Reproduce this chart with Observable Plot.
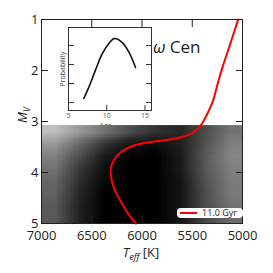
<!DOCTYPE html>
<html>
<head>
<meta charset="utf-8">
<script src="https://cdn.jsdelivr.net/npm/d3@7"></script>
<script src="https://cdn.jsdelivr.net/npm/@observablehq/plot@0.6"></script>
<style>
  html, body { margin: 0; padding: 0; background: white; }
  #wrap { position: relative; width: 273px; height: 273px; overflow: hidden; font-family: "Open Sans", sans-serif; color: #222; }
  .abs { position: absolute; }
  sub { font-size: 0.7em; vertical-align: -0.3em; line-height: 0; }
</style>
</head>
<body>
<div id="wrap">
  <div id="inset" class="abs" style="left:50px; top:20px; z-index:1;"></div>
  <div id="main" class="abs" style="left:0; top:0; z-index:2;"></div>
  <div class="abs" style="left:153px; top:35px; z-index:3; font-size:17px; white-space:nowrap;"><i>ω</i> Cen</div>
  <div class="abs" style="left:22px; top:115px; z-index:3; font-size:13px; transform:translate(-50%,-50%) rotate(-90deg); white-space:nowrap;"><i>M</i><sub><i>V</i></sub></div>
  <div class="abs" style="left:141px; top:252px; z-index:3; font-size:13px; transform:translate(-50%,-50%); white-space:nowrap;"><i>T</i><sub><i>eff</i></sub> [K]</div>
  <div class="abs" style="left:177px; top:208px; width:66px; height:10px; z-index:3; background:white; border-radius:4px; font-size:9px; line-height:10px; white-space:nowrap;">
    <span style="position:absolute; left:3px; top:4px; width:17px; height:2px; background:red;"></span>
    <span id="legtext" style="position:absolute; left:25px; top:0px;"></span>
  </div>
</div>
<script>
// ---- data ----
const teffTicks = [7000, 6500, 6000, 5500, 5000];
const mvTicks = [1, 2, 3, 4, 5];
const isoTeff = [5043, 5127, 5193, 5243, 5293, 5343, 5393, 5443, 5510, 5610, 5710, 5910, 6110, 6243, 6303, 6310, 6277, 6210, 6127, 6060];
const isoMv   = [1.00, 1.51, 1.90, 2.23, 2.59, 2.82, 3.01, 3.14, 3.24, 3.31, 3.35, 3.40, 3.49, 3.66, 3.85, 4.05, 4.31, 4.57, 4.84, 5.00];
const isoLabel = "11.0 Gyr";
// star density grid (fraction of black), rows from Mv 3.07 to 5.0, columns from 7000 K to 5000 K
const densityRows = [
  [0.25, 0.40, 0.55, 0.70, 0.80, 0.85, 0.70, 0.55],
  [0.40, 0.60, 0.80, 0.92, 0.95, 0.88, 0.68, 0.50],
  [0.50, 0.70, 0.90, 1.00, 1.00, 0.90, 0.65, 0.48],
  [0.55, 0.78, 0.95, 1.00, 1.00, 0.90, 0.66, 0.50],
  [0.60, 0.82, 0.97, 1.00, 1.00, 0.92, 0.68, 0.52],
  [0.62, 0.85, 1.00, 1.00, 1.00, 0.92, 0.70, 0.52],
  [0.65, 0.87, 1.00, 1.00, 1.00, 0.92, 0.70, 0.55],
  [0.65, 0.87, 1.00, 1.00, 1.00, 0.92, 0.72, 0.58]
];
const densityTeff = [7000, 5000];
const densityMv = [3.07, 5.0];
// inset: age probability
const ageTicks = [5, 10, 15];
const probTicks = [1, 2, 3, 4];
const ages = [7.0, 7.65, 8.5, 9.4, 10.3, 11.0, 12.0, 12.9, 13.76];
const probs = [1.21, 1.80, 2.68, 3.56, 4.12, 4.37, 4.17, 3.65, 2.84];

document.getElementById("legtext").textContent = isoLabel;

const iso = isoTeff.map((t, i) => ({teff: t, mv: isoMv[i]}));
const dens = densityRows.flat();

const main = Plot.plot({
  width: 273, height: 273,
  marginLeft: 41, marginRight: 31, marginTop: 19, marginBottom: 50,
  style: {background: "transparent", fontFamily: "Open Sans, sans-serif", fontSize: "13px", color: "#222"},
  x: {domain: [7000, 5000], label: null},
  y: {domain: [1, 5], reverse: true, label: null},
  color: {type: "linear", domain: [0, 1], range: ["white", "black"]},
  marks: [
    Plot.raster(dens, {width: densityRows[0].length, height: densityRows.length,
      x1: densityTeff[0], x2: densityTeff[1], y1: densityMv[0], y2: densityMv[1],
      fill: d => d}),
    Plot.line(iso, {x: "teff", y: "mv", stroke: "#f00", strokeWidth: 2, curve: "catmull-rom"}),
    Plot.frame({stroke: "#222"}),
    Plot.axisX(teffTicks, {anchor: "bottom", tickSize: -7, tickPadding: 14, tickFormat: d => `${d}`, stroke: "#222", fill: "#222"}),
    Plot.axisX(teffTicks, {anchor: "top", tickSize: -7, tickFormat: () => "", stroke: "#222"}),
    Plot.axisY(mvTicks, {anchor: "left", tickSize: -7, tickPadding: 10, tickFormat: d => `${d}`, stroke: "#222", fill: "#222"}),
    Plot.axisY(mvTicks, {anchor: "right", tickSize: -7, tickFormat: () => "", stroke: "#222"})
  ]
});
document.getElementById("main").appendChild(main);

const inset = Plot.plot({
  width: 105, height: 112,
  marginLeft: 18, marginRight: 4, marginTop: 7, marginBottom: 22,
  style: {background: "white", fontFamily: "Open Sans, sans-serif", fontSize: "7px", color: "#444"},
  x: {domain: [5, 15.85], label: null},
  y: {domain: [0.58, 4.95], label: null},
  marks: [
    Plot.frame({stroke: "#333", fill: "white"}),
    Plot.line(ages.map((a, i) => ({age: a, p: probs[i]})), {x: "age", y: "p", stroke: "#111", strokeWidth: 1.6, curve: "catmull-rom"}),
    Plot.axisX(ageTicks, {anchor: "bottom", tickSize: -5, tickPadding: 8, tickFormat: d => `${d}`, stroke: "#333", fill: "#555", label: "Age", labelAnchor: "center", labelOffset: 17}),
    Plot.axisY(probTicks, {anchor: "left", tickSize: -6, tickFormat: () => "", stroke: "#333", label: "Probability", labelAnchor: "center", labelArrow: "none", labelOffset: 8}),
    Plot.axisY(probTicks, {anchor: "right", tickSize: -6, tickFormat: () => "", stroke: "#333", label: null})
  ]
});
document.getElementById("inset").appendChild(inset);
</script>
</body>
</html>
